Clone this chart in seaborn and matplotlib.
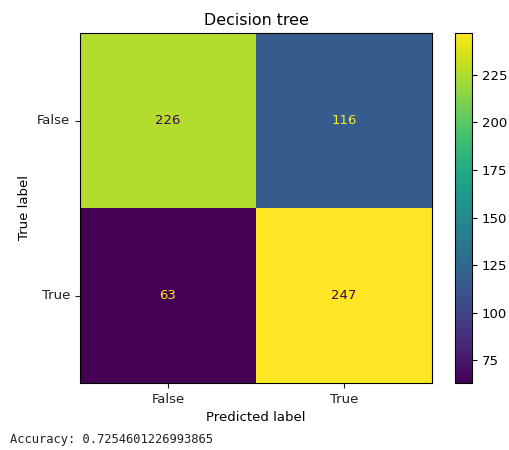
import numpy as np
import pandas as pd
import matplotlib
matplotlib.use("Agg")
import matplotlib.pyplot as plt
import seaborn as sns

# Confusion matrix of the decision tree classifier
class_labels = ["False", "True"]
row_false = [226, 116]
row_true = [63, 247]
accuracy = 0.7254601226993865

cm = pd.DataFrame([row_false, row_true], index=class_labels, columns=class_labels)

W, H = 510, 450
fig = plt.figure(figsize=(W / 100, H / 100), dpi=100)

def rect(x0, y0, x1, y1):
    return [x0 / W, 1 - y1 / H, (x1 - x0) / W, (y1 - y0) / H]

ax = fig.add_axes(rect(80, 33, 432, 383))
cax = fig.add_axes(rect(455, 33, 472, 383))

cmap = plt.get_cmap("viridis")
sns.heatmap(cm, ax=ax, cbar_ax=cax, cmap=cmap, annot=True, fmt="d",
            annot_kws={"fontsize": 9.5}, square=False)

# Text colour flips at the midpoint of the value range
vals = cm.values
thresh = (vals.max() + vals.min()) / 2.0
for txt, v in zip(ax.texts, vals.ravel()):
    txt.set_color(cmap(1.0) if v < thresh else cmap(0.0))

for sp in ax.spines.values():
    sp.set_visible(True)
    sp.set_linewidth(0.8)
    sp.set_color("black")

ax.tick_params(axis="both", labelsize=9.5, length=3.5, width=0.8, colors="#222222")
ax.set_yticklabels(class_labels, rotation=0, fontsize=9.5)
ax.set_xticklabels(class_labels, rotation=0, fontsize=9.5)
ax.set_xlabel("Predicted label", fontsize=9.5, labelpad=4)
ax.set_ylabel("True label", fontsize=9.5, labelpad=4)
ax.set_title("Decision tree", fontsize=11.4, pad=6)

cbar = ax.collections[0].colorbar
cbar.outline.set_visible(True)
cbar.outline.set_linewidth(0.8)
cbar.outline.set_edgecolor("black")
cbar.set_ticks([75, 100, 125, 150, 175, 200, 225])
cax.tick_params(labelsize=9.5, length=3.5, width=0.8)

fig.text(10 / W, 1 - 440 / H, f"Accuracy: {accuracy}",
         family="DejaVu Sans Mono", fontsize=8.7, color="#222222", va="center")

fig.savefig("out.png", dpi=100, facecolor="white")
